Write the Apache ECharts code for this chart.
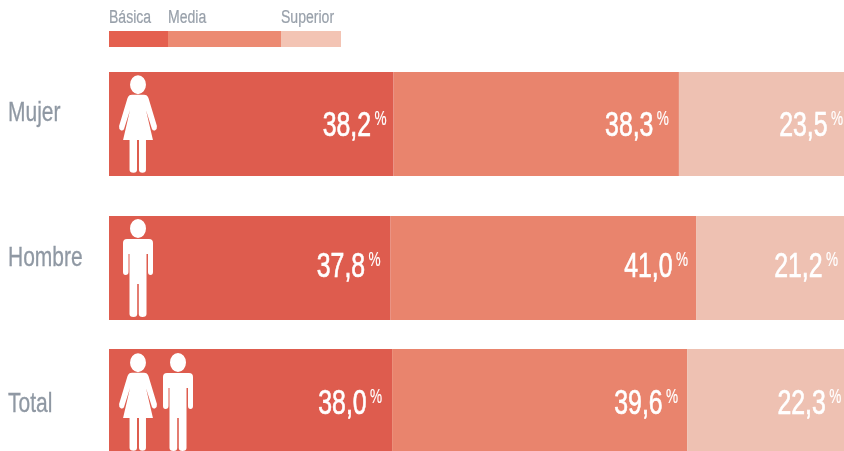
<!DOCTYPE html>
<html>
<head>
<meta charset="utf-8">
<style>
  html, body { margin: 0; padding: 0; background: #fff; overflow: hidden; }
  #chart { width: 844px; height: 451px; }
</style>
<script src="https://cdn.jsdelivr.net/npm/echarts@6/dist/echarts.min.js"></script>
</head>
<body>
<div id="chart"></div>
<script>
var categories = ["Mujer", "Hombre", "Total"];
var seriesNames = ["Básica", "Media", "Superior"];
var basica = [38.2, 37.8, 38.0];
var media = [38.3, 41.0, 39.6];
var superior = [23.5, 21.2, 22.3];

var FONT = '"Liberation Sans", sans-serif';
var colors = ["#de5c4e", "#e9846d", "#eec1b2"];
var legendColors = ["#e4604f", "#ec8a72", "#f3c4b4"];
var allValues = [basica, media, superior];

// layout of each row
var rowTops = [72, 216, 349];
var nameY = [113, 258, 404];
var numberShift = [2, -1, 3];
var labelInset = [[7, 10, 11], [10, 8, 16], [10, 9, 12]];
var rowIcons = [["woman"], ["man"], ["woman", "man"]];

// pictogramas
var iconPaths = {
  woman: "M11 9.5a8 9.5 0 1 0 16 0a8 9.5 0 1 0 -16 0Z" +
    "M13 19.5H25Q28.5 19.5 29.5 23L38 51Q38.5 54 36 55.5Q34 56 33 54L27 35L34 65H27V95Q27 98 23.5 98Q20 98 20 95V65H18V95Q18 98 14.5 98Q10.5 98 10.5 95V65H4L11 35L5 54Q4 56 2 55.5Q-0.5 54 0 51L8.5 23Q9.5 19.5 13 19.5Z",
  man: "M7 9.5a8 9.5 0 1 0 16 0a8 9.5 0 1 0 -16 0Z" +
    "M4 20H26Q30 20 30 24V53Q30 56 27.5 56Q25 56 25 53V35H23.5V95Q23.5 98 19.5 98Q15.8 98 15.8 95V65H14.2V95Q14.2 98 10.5 98Q6.5 98 6.5 95V35H5.5V53Q5.5 56 2.5 56Q0 56 0 53V24Q0 20 4 20Z"
};
var iconWidth = { woman: 38, man: 30 };
var iconLeft = { woman: 119, man: 123 };

// narrow text: no condensed font installed, so squeeze it horizontally
function squeezed(x, y, text, size, color, align, scale, weight) {
  return {
    type: "text",
    x: x,
    y: y,
    scaleX: scale,
    style: {
      text: text,
      fill: color,
      stroke: color,
      lineWidth: weight,
      font: size + "px " + FONT,
      align: align,
      verticalAlign: "middle",
      textAlign: align,
      textVerticalAlign: "middle"
    }
  };
}

function renderRowLabels(row) {
  return function (params, api) {
    var end = api.coord([api.value(0), api.value(1)]);
    var seg = api.value(3);
    var right = end[0] - labelInset[row][seg];
    var cy = end[1] + numberShift[row];
    var children = [
      squeezed(right - 15.5, cy, api.value(2).toFixed(1).replace(".", ","), 35, "#fff", "right", 0.71, 0.7),
      squeezed(right, cy - 7, "%", 20, "#fff", "right", 0.68, 0.2)
    ];
    if (seg === 0) {
      rowIcons[row].forEach(function (kind, k) {
        children.push({
          type: "path",
          shape: {
            pathData: iconPaths[kind],
            x: k === 0 ? iconLeft[kind] : 163,
            y: rowTops[row] + (row === 2 ? 4 : 3),
            width: iconWidth[kind],
            height: 98
          },
          style: { fill: "#fff" }
        });
      });
    }
    return { type: "group", children: children };
  };
}

var grids = [], xAxes = [], yAxes = [], series = [];
categories.forEach(function (name, row) {
  // the last segment runs past the right edge of the page
  grids.push({ left: 109, top: rowTops[row], width: 745, height: 104, outerBoundsMode: "none" });
  xAxes.push({ gridIndex: row, type: "value", min: 0, max: 100, show: false });
  yAxes.push({ gridIndex: row, type: "category", data: [name], show: false });

  var running = 0;
  var labelRows = [];
  seriesNames.forEach(function (s, i) {
    var v = allValues[i][row];
    running += v;
    labelRows.push([running, name, v, i]);
    series.push({
      name: s,
      type: "bar",
      stack: "row" + row,
      xAxisIndex: row,
      yAxisIndex: row,
      barWidth: "100%",
      silent: true,
      itemStyle: { color: colors[i] },
      data: [v]
    });
  });
  series.push({
    type: "custom",
    xAxisIndex: row,
    yAxisIndex: row,
    z: 5,
    silent: true,
    clip: false,
    encode: { x: 0, y: 1 },
    renderItem: renderRowLabels(row),
    data: labelRows
  });
});

// leyenda
var legendStarts = [109, 168, 281];
var legendEnds = [168, 281, 341];
var graphic = [];
seriesNames.forEach(function (s, i) {
  graphic.push({
    type: "rect",
    shape: { x: legendStarts[i], y: 31, width: legendEnds[i] - legendStarts[i], height: 16 },
    style: { fill: legendColors[i] }
  });
  graphic.push(squeezed(legendStarts[i], 18.5, s, 18, "#98a0aa", "left", 0.78, 0.2));
});
categories.forEach(function (name, row) {
  graphic.push(squeezed(8, nameY[row], name, 28, "#8f98a3", "left", 0.75, 0.3));
});

var chart = echarts.init(document.getElementById("chart"));
chart.setOption({
  animation: false,
  backgroundColor: "#fff",
  grid: grids,
  xAxis: xAxes,
  yAxis: yAxes,
  series: series,
  graphic: graphic
});
</script>
</body>
</html>
